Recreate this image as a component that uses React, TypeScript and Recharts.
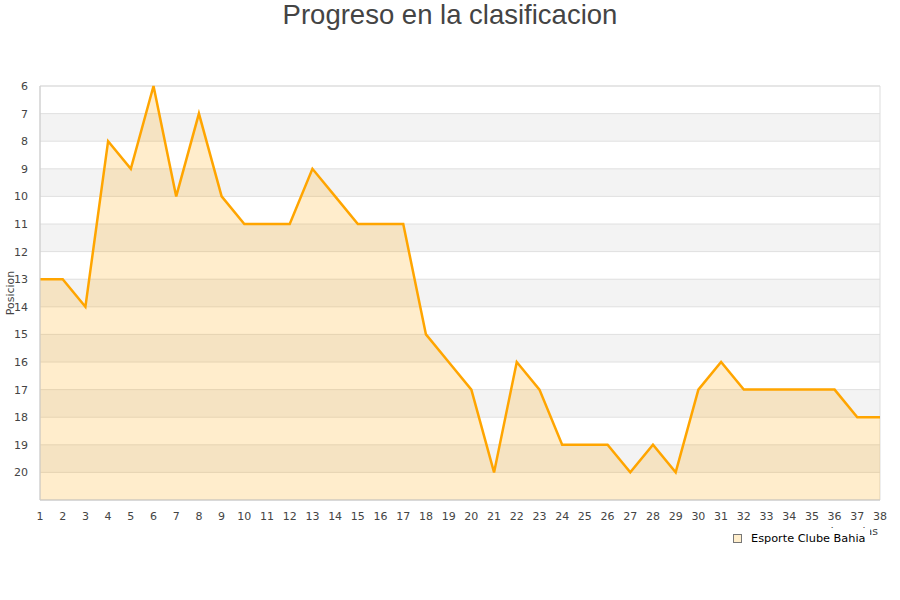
import React from 'react';
import { ComposedChart, Area, XAxis, YAxis, CartesianGrid, ReferenceArea } from 'recharts';

// jornadas 1..38 and position after each one
const rounds = [1, 2, 3, 4, 5, 6, 7, 8, 9, 10, 11, 12, 13, 14, 15, 16, 17, 18, 19, 20, 21, 22, 23, 24, 25, 26, 27, 28, 29, 30, 31, 32, 33, 34, 35, 36, 37, 38];
const positions = [13, 13, 14, 8, 9, 6, 10, 7, 10, 11, 11, 11, 9, 10, 11, 11, 11, 15, 16, 17, 20, 16, 17, 19, 19, 19, 20, 19, 20, 17, 16, 17, 17, 17, 17, 17, 18, 18];
const yTicks = [6, 7, 8, 9, 10, 11, 12, 13, 14, 15, 16, 17, 18, 19, 20];
const teamName = 'Esporte Clube Bahia';

const data = rounds.map((r, i) => ({ round: r, pos: positions[i] }));

export default function App() {
  return (
    <div style={{ position: 'absolute', left: 0, top: 0, width: 900, height: 600, background: '#fff', fontFamily: '"DejaVu Sans", sans-serif' }}>
      <div style={{ position: 'absolute', top: -1, left: 0, width: 900, textAlign: 'center', fontFamily: '"Liberation Sans", Arial, sans-serif', fontSize: 27.5, color: '#444', lineHeight: '32px' }}>
        Progreso en la clasificacion
      </div>
      <ComposedChart width={900} height={600} data={data} margin={{ top: 86, right: 20, bottom: 70, left: 0 }}>
        <CartesianGrid vertical={false} stroke="#e0e0e0" horizontalFill={['#ffffff', '#f3f3f3']} fillOpacity={1} />
        <XAxis
          dataKey="round"
          type="number"
          domain={[1, 38]}
          ticks={rounds}
          interval={0}
          tickLine={false}
          axisLine={{ stroke: '#ccc' }}
          height={30}
          tick={{ fontSize: 11, fill: '#444' }}
          tickMargin={6}
        />
        <YAxis
          reversed
          type="number"
          domain={[6, 21]}
          ticks={yTicks}
          interval={0}
          width={40}
          tickLine={false}
          axisLine={{ stroke: '#ccc' }}
          tick={{ fontSize: 11, fill: '#444' }}
          tickMargin={6}
          label={{ value: 'Posicion', angle: -90, position: 'insideLeft', offset: 10, style: { fontSize: 11, fill: '#444', textAnchor: 'middle' } }}
        />
        <ReferenceArea x1={1} x2={38} y1={6} y2={21} fill="none" stroke="#ddd" ifOverflow="visible" />
        <Area
          type="linear"
          dataKey="pos"
          baseValue={21}
          stroke="#FFA500"
          strokeWidth={2.5}
          fill="#FFA500"
          fillOpacity={0.2}
          dot={false}
          activeDot={false}
          isAnimationActive={false}
        />
      </ComposedChart>
      {/* x-axis title, mostly hidden behind the legend box as in the original */}
      <div style={{ position: 'absolute', right: 22, top: 525, fontSize: 11, color: '#444' }}>Jornadas</div>
      <div style={{ position: 'absolute', left: 726, top: 528, width: 137, padding: '4px 0 5px 7px', background: '#fff', display: 'flex', alignItems: 'center', fontSize: 11.3, color: '#000', whiteSpace: 'nowrap' }}>
        <span style={{ display: 'inline-block', width: 7, height: 7, background: '#ffeecc', border: '1px solid #777', marginRight: 9 }} />
        {teamName}
      </div>
    </div>
  );
}
